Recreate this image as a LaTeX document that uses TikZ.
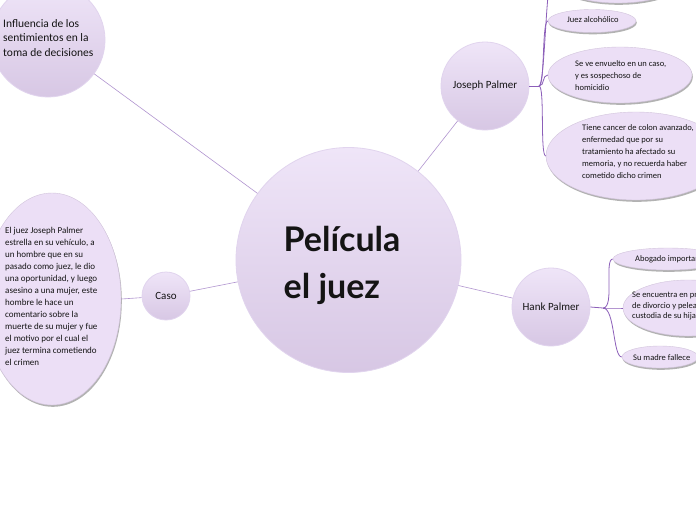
\documentclass[tikz,border=0pt]{standalone}
\usepackage{fontspec}
\setmainfont{Carlito}
\newfontfamily\titlefont{Lato}
\usetikzlibrary{shapes.geometric,shadows,calc}
\definecolor{lineC}{RGB}{178,150,208}
\definecolor{forkC}{RGB}{140,95,185}
\definecolor{ellC}{RGB}{236,223,246}
\definecolor{ellB}{RGB}{210,196,220}
\definecolor{cTop}{RGB}{239,229,248}
\definecolor{cBot}{RGB}{215,199,228}
\definecolor{cBorder}{RGB}{225,212,238}
\definecolor{txtC}{RGB}{20,20,20}
\begin{document}
\begin{tikzpicture}[x=1pt,y=-1pt,
  bubble/.style={circle,inner sep=0pt,top color=cTop,bottom color=cBot,draw=cBorder,line width=0.8pt,text=txtC,font=\fontsize{11}{13}\selectfont},
  leaf/.style={ellipse,inner sep=0pt,fill=ellC,draw=ellB,line width=0.4pt,
    drop shadow={shadow xshift=0.8pt,shadow yshift=-1.8pt,fill=black!55,opacity=0.55}},
  txt/.style={inner sep=0pt,align=left,text=txtC,font=\fontsize{8.5}{12}\selectfont,anchor=west},
  link/.style={draw=lineC,line width=0.6pt},
  fork/.style={draw=forkC,line width=0.8pt}]
\useasboundingbox (0,0) rectangle (696,520);
\clip (0,0) rectangle (696,520);
\fill[white] (0,0) rectangle (696,520);

% main nodes
\node[bubble,minimum size=225pt] (main) at (348.5,260) {};
\node[inner sep=0pt,align=left,text=txtC,font=\titlefont\bfseries\fontsize{34}{47}\selectfont] (title) at (342,265) {Película\\el juez};

\node[bubble,minimum size=114pt] (infl) at (48,40) {};
\node[txt,font=\fontsize{11.5}{14.5}\selectfont] (infltxt) at (3,38) {Influencia de los\\sentimientos en la\\toma de decisiones};

\node[bubble,minimum size=88pt] (jp) at (485,86) {Joseph Palmer};
\node[bubble,minimum size=78pt] (hp) at (551,307) {Hank Palmer};
\node[bubble,minimum size=48pt] (caso) at (166,296) {Caso};

% connectors between main nodes
\draw[link] (infl) -- (main);
\draw[link] (jp) -- (main);
\draw[link] (hp) -- (main);
\draw[link] (caso) -- (main);

% Caso leaf
\node[leaf,minimum width=138pt,minimum height=212pt] (casoleaf) at (52,299) {};
\node[txt,font=\fontsize{9}{12}\selectfont] (casotxt) at (5,296) {El juez Joseph Palmer\\estrella en su vehículo, a\\un hombre que en su\\pasado como juez, le dio\\una oportunidad, y luego\\asesino a una mujer, este\\hombre le hace un\\comentario sobre la\\muerte de su mujer y fue\\el motivo por el cual el\\juez termina cometiendo\\el crimen};
\draw[link] (caso) -- (casoleaf.east);

% Joseph Palmer leaves
\node[leaf,minimum width=132pt,minimum height=50pt] (jtop) at (618,-22) {};
\node[leaf,minimum width=88pt,minimum height=23pt] (juez) at (592,21) {};
\node[txt] (jueztxt) at (567,20) {Juez alcohólico};
\node[leaf,minimum width=144pt,minimum height=56pt] (seve) at (620,75) {};
\node[txt] (sevetxt) at (575,76) {Se ve envuelto en un caso,\\y es sospechoso de\\homicidio};
\node[leaf,minimum width=180pt,minimum height=88pt] (tiene) at (636,156) {};
\node[txt] (tienetxt) at (582,152) {Tiene cancer de colon avanzado,\\enfermedad que por su\\tratamiento ha afectado su\\memoria, y no recuerda haber\\cometido dicho crimen};

\coordinate (jf) at (539,86);
\draw[fork] (jp.east) -- (jf);
\foreach \c in {jtop,juez,seve,tiene}
  \draw[fork] (jf) .. controls +(6,0) and +(-6,0) .. (\c.west);

% Hank Palmer leaves
\node[leaf,minimum width=110pt,minimum height=22pt] (abog) at (668,259) {};
\node[txt] (abogtxt) at (635,259) {Abogado importante};
\node[leaf,minimum width=130pt,minimum height=56pt] (senc) at (688,308) {};
\node[txt,font=\fontsize{8.5}{10.5}\selectfont] (senctxt) at (632,306) {Se encuentra en proceso\\de divorcio y peleando la\\custodia de su hija};
\node[leaf,minimum width=76pt,minimum height=22pt] (madre) at (660,357) {};
\node[txt] (madretxt) at (633,358) {Su madre fallece};

\coordinate (hf) at (603,308);
\draw[fork] (hp.east) -- (hf);
\foreach \c in {abog,senc,madre}
  \draw[fork] (hf) .. controls +(12,0) and +(-9,0) .. (\c.west);
\end{tikzpicture}
\end{document}
